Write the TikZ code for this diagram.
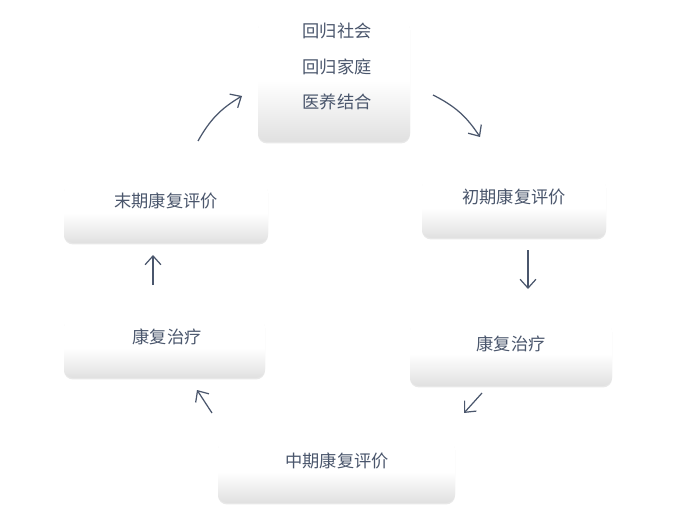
\documentclass[tikz,border=0pt]{standalone}
\usepackage{fontspec}
\setmainfont{Noto Sans CJK SC}
\usetikzlibrary{arrows.meta,shadows}

\definecolor{inkc}{RGB}{74,86,108}
\tikzset{
  stepbox/.style={rounded corners=5pt,draw=none,
    top color=white,bottom color=black!12,middle color=white,inner sep=0pt,
    drop shadow={opacity=0.18,shadow xshift=0pt,shadow yshift=-0.8pt}},
  lbl/.style={text=inkc,font=\fontsize{9.8pt}{11pt}\selectfont},
  flow/.style={draw=inkc,line width=0.7pt,-{Straight Barb[length=5pt,width=9pt]}}
}

\begin{document}
\begin{tikzpicture}[x=0.02cm,y=-0.02cm]
\useasboundingbox (0,0) rectangle (682,520);
% boxes
\node[stepbox,minimum width=152*0.02cm,minimum height=122*0.02cm] (top) at (334,81){};
\node[stepbox,minimum width=184*0.02cm,minimum height=60*0.02cm] (chuqi) at (514,208){};
\node[stepbox,minimum width=202*0.02cm,minimum height=64*0.02cm] (zhiR) at (511,354){};
\node[stepbox,minimum width=237*0.02cm,minimum height=63*0.02cm] (zhongqi) at (336.5,471.5){};
\node[stepbox,minimum width=201*0.02cm,minimum height=60*0.02cm] (zhiL) at (164.5,348){};
\node[stepbox,minimum width=204*0.02cm,minimum height=60*0.02cm] (moqi) at (166,213){};
% texts
\node[lbl] (topA) at (337,31){回归社会};
\node[lbl] (topB) at (337,67){回归家庭};
\node[lbl] (topC) at (337,102){医养结合};
\node[lbl] (chuqiT) at (514,197){初期康复评价};
\node[lbl] (zhiRT) at (511,344){康复治疗};
\node[lbl] (zhongqiT) at (337,461){中期康复评价};
\node[lbl] (zhiLT) at (167,337){康复治疗};
\node[lbl] (moqiT) at (166,201){末期康复评价};
% arrow ends
\coordinate (a1) at (433,95);  \coordinate (b1) at (480,137);
\coordinate (a2) at (528,250); \coordinate (b2) at (528,289);
\coordinate (a3) at (482,393); \coordinate (b3) at (464,413);
\coordinate (a4) at (212,413); \coordinate (b4) at (197,390);
\coordinate (a5) at (153,285); \coordinate (b5) at (153,255);
\coordinate (a6) at (198,141); \coordinate (b6) at (242,96);
\draw[flow] (a1) to[bend left=15] (b1);
\draw[flow] (a2) -- (b2);
\draw[flow] (a3) -- (b3);
\draw[flow] (a4) -- (b4);
\draw[flow] (a5) -- (b5);
\draw[flow] (a6) to[bend left=15] (b6);
\end{tikzpicture}
\end{document}
